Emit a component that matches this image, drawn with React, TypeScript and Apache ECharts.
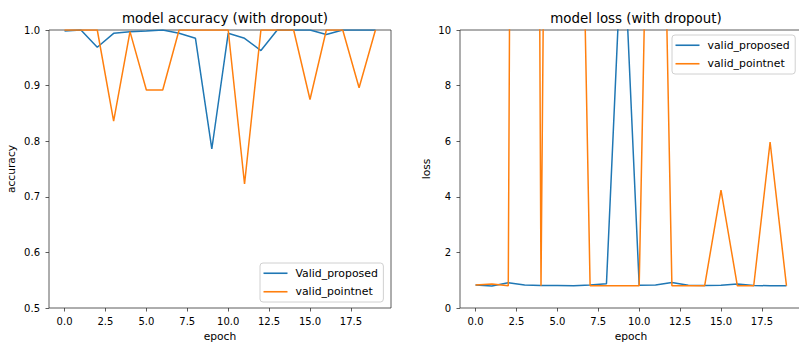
import React, { useEffect, useRef } from "react";
import * as echarts from "echarts";

const epochs = [0, 1, 2, 3, 4, 5, 6, 7, 8, 9, 10, 11, 12, 13, 14, 15, 16, 17, 18, 19];
const accProposed = [0.998, 1.0, 0.969, 0.994, 0.997, 0.998, 1.0, 0.994, 0.985, 0.786, 0.994, 0.985, 0.963, 1.0, 1.0, 1.0, 0.992, 1.0, 1.0, 1.0];
const accPointnet = [1.0, 1.0, 1.0, 0.836, 0.997, 0.892, 0.892, 1.0, 1.0, 1.0, 1.0, 0.723, 1.0, 1.0, 1.0, 0.875, 1.0, 1.0, 0.896, 1.0];
const lossProposed = [0.83, 0.79, 0.91, 0.83, 0.81, 0.81, 0.8, 0.83, 0.87, 14.0, 0.82, 0.83, 0.92, 0.82, 0.81, 0.82, 0.86, 0.81, 0.8, 0.8];
const lossPointnet = [0.83, 0.86, 0.8, 125, 0.8, 71, 32, 0.8, 0.8, 0.8, 0.8, 31, 0.8, 0.8, 0.8, 4.24, 0.8, 0.8, 5.97, 0.8];
const xTicks = [0, 2.5, 5, 7.5, 10, 12.5, 15, 17.5];

const BLUE = "#1f77b4";
const ORANGE = "#ff7f0e";
const FONT = "DejaVu Sans";

export default function App() {
  const ref = useRef<HTMLDivElement>(null);
  useEffect(() => {
    if (!ref.current) return;
    const chart = echarts.init(ref.current, undefined, { renderer: "svg" });
    const pair = (ys: number[]) => epochs.map((e, i) => [e, ys[i]]);
    const tickStyle = { color: "#333", width: 0.8 };
    const nameStyle = { fontFamily: FONT, fontSize: 10.7, color: "#000" };
    const xAxisBase = (gridIndex: number) => ({
      type: "value" as const,
      gridIndex,
      min: -0.95,
      max: 19.95,
      name: "epoch",
      nameLocation: "middle" as const,
      nameGap: 23,
      nameTextStyle: nameStyle,
      axisLine: { show: false, onZero: false },
      splitLine: { show: false },
      axisTick: { show: true, length: 3.5, customValues: xTicks, lineStyle: tickStyle },
      axisLabel: {
        customValues: xTicks,
        formatter: (v: number) => v.toFixed(1),
        fontFamily: FONT,
        fontSize: 10,
        color: "#000",
        margin: 8,
      },
    });
    const legendBase = {
      orient: "vertical" as const,
      padding: [4, 5.5, 4, 3.5],
      itemGap: 6,
      itemWidth: 24,
      itemHeight: 1.6,
      icon: "rect",
      borderColor: "#d0d0d0",
      borderWidth: 1,
      borderRadius: 3,
      backgroundColor: "rgba(255,255,255,0.8)",
      textStyle: { fontFamily: FONT, fontSize: 10.9, color: "#000", padding: [0, 0, 0, 3], lineHeight: 12.5 },
      selectedMode: false,
    };
    const seriesBase = {
      type: "line" as const,
      symbol: "none",
      showSymbol: false,
      clip: true,
    };
    const titleStyle = { fontFamily: FONT, fontSize: 13.4, fontWeight: "normal" as const, color: "#000" };
    const gridBase = {
      top: 30,
      width: 342,
      height: 278,
      show: true,
      borderColor: "#333",
      borderWidth: 0.8,
      backgroundColor: "transparent",
      containLabel: false,
      outerBoundsMode: "none",
    };
    chart.setOption({
      animation: false,
      backgroundColor: "#fff",
      title: [
        { text: "model accuracy (with dropout)", left: 220, textAlign: "center", top: 7, textStyle: titleStyle },
        { text: "model loss (with dropout)", left: 631, textAlign: "center", top: 7, textStyle: titleStyle },
      ],
      grid: [
        { ...gridBase, left: 49 },
        { ...gridBase, left: 460 },
      ],
      xAxis: [xAxisBase(0), xAxisBase(1)],
      yAxis: [
        {
          type: "value",
          gridIndex: 0,
          min: 0.5,
          max: 1.0,
          interval: 0.1,
          name: "accuracy",
          nameLocation: "middle",
          nameGap: 32,
          nameTextStyle: nameStyle,
          axisLine: { show: false, onZero: false },
          splitLine: { show: false },
          axisTick: { show: true, length: 3.5, lineStyle: tickStyle },
          axisLabel: { formatter: (v: number) => v.toFixed(1), fontFamily: FONT, fontSize: 10, color: "#000", margin: 9 },
        },
        {
          type: "value",
          gridIndex: 1,
          min: 0,
          max: 10,
          interval: 2,
          name: "loss",
          nameLocation: "middle",
          nameGap: 28,
          nameTextStyle: nameStyle,
          axisLine: { show: false, onZero: false },
          splitLine: { show: false },
          axisTick: { show: true, length: 3.5, lineStyle: tickStyle },
          axisLabel: { fontFamily: FONT, fontSize: 10, color: "#000", margin: 9 },
        },
      ],
      legend: [
        { ...legendBase, data: ["Valid_proposed", "valid_pointnet"], left: 260, top: 263 },
        { ...legendBase, data: ["valid_proposed", "valid_pointnet"], left: 672, top: 35 },
      ],
      series: [
        { ...seriesBase, name: "Valid_proposed", xAxisIndex: 0, yAxisIndex: 0, data: pair(accProposed), color: BLUE, lineStyle: { width: 1.5, color: BLUE } },
        { ...seriesBase, name: "valid_pointnet", xAxisIndex: 0, yAxisIndex: 0, data: pair(accPointnet), color: ORANGE, lineStyle: { width: 1.5, color: ORANGE } },
        { ...seriesBase, name: "valid_proposed", xAxisIndex: 1, yAxisIndex: 1, data: pair(lossProposed), color: BLUE, lineStyle: { width: 1.5, color: BLUE } },
        { ...seriesBase, name: "valid_pointnet", xAxisIndex: 1, yAxisIndex: 1, data: pair(lossPointnet), color: ORANGE, lineStyle: { width: 1.5, color: ORANGE } },
      ],
    });
    return () => chart.dispose();
  }, []);
  return (
    <div
      ref={ref}
      style={{ position: "absolute", left: 0, top: 0, width: 799, height: 343 }}
    />
  );
}
